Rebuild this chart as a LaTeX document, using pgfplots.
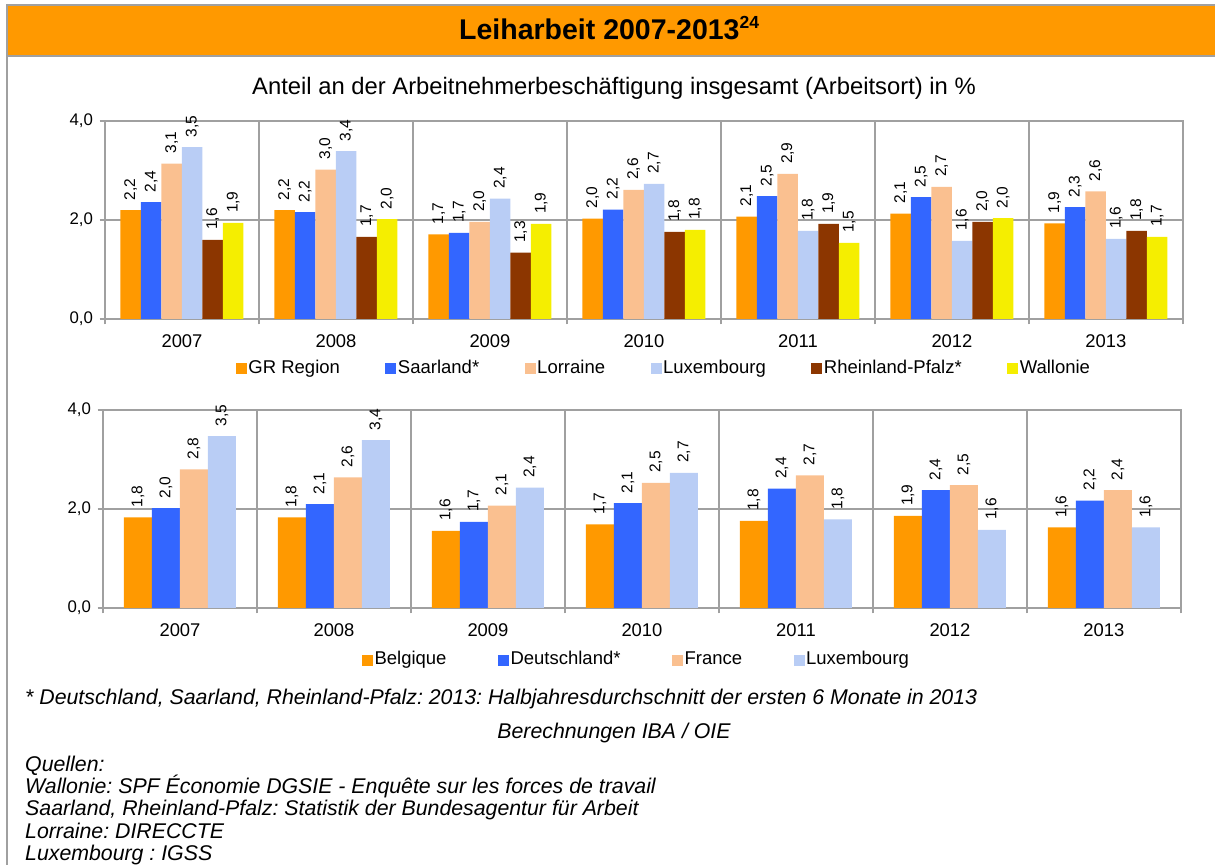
\documentclass[border=0pt]{standalone}
\usepackage{fontspec}
\setmainfont{Liberation Sans}
\usepackage{pgfplots}
\usepackage{pgfplotstable}
\pgfplotsset{compat=1.18}
\frenchspacing

\definecolor{cOr}{HTML}{FF9900}
\definecolor{cBl}{HTML}{3366FF}
\definecolor{cPe}{HTML}{FAC090}
\definecolor{cLb}{HTML}{B9CDF5}
\definecolor{cBr}{HTML}{8C3600}
\definecolor{cYe}{HTML}{F5EE00}
\definecolor{cGr}{HTML}{A0A0A0}

\pgfplotstableread{
x gr saar lor lux rp wal
0 2.20 2.36 3.14 3.47 1.60 1.94
1 2.20 2.16 3.02 3.39 1.66 2.02
2 1.71 1.74 1.96 2.43 1.34 1.92
3 2.03 2.21 2.61 2.73 1.76 1.80
4 2.07 2.48 2.93 1.78 1.92 1.54
5 2.13 2.46 2.67 1.58 1.96 2.04
6 1.93 2.26 2.58 1.62 1.78 1.66
}\tA

\pgfplotstableread{
x be de fr lu
0 1.83 2.02 2.80 3.47
1 1.83 2.10 2.64 3.39
2 1.56 1.74 2.07 2.43
3 1.69 2.12 2.53 2.73
4 1.76 2.41 2.68 1.79
5 1.86 2.38 2.48 1.58
6 1.63 2.17 2.38 1.63
}\tB

\pgfplotsset{
 ybar legend/.style={legend image code/.code={\path[##1,draw=none] (0pt,-5.5pt) rectangle (11pt,5.5pt);}},
 mybar/.style={
  scale only axis, ybar=0pt, clip=false,
  xmin=-0.5, xmax=6.5, ymin=0, ymax=4,
  xtick={0,1,2,3,4,5,6},
  xticklabels={2007,2008,2009,2010,2011,2012,2013},
  minor xtick={-0.5,0.5,1.5,2.5,3.5,4.5,5.5,6.5},
  ytick={0,2,4},
  xtick pos=bottom, ytick pos=left,
  ymajorgrids, xminorgrids,
  major grid style={draw=cGr, line width=1.3pt},
  minor grid style={draw=cGr, line width=1.3pt},
  axis line style={draw=cGr, line width=1.3pt},
  tick style={draw=cGr, line width=1.3pt},
  major x tick style={draw=none},
  tick align=outside,
  major tick length=5.5pt, minor tick length=5.5pt,
  xticklabel style={font=\fontsize{18.4}{20}\selectfont, yshift=-6.5pt},
  yticklabel style={font=\fontsize{16.8}{18}\selectfont, xshift=-3pt},
  /pgf/number format/use comma,
  /pgf/number format/fixed,
  /pgf/number format/fixed zerofill,
  /pgf/number format/precision=1,
  /pgf/number format/assume math mode=true,
  nodes near coords,
  every node near coord/.append style={rotate=90, anchor=west, font=\fontsize{15.5}{16}\selectfont, inner xsep=1pt, outer xsep=9pt, inner ysep=1pt, text=black},
  legend cell align=left,
  legend style={draw=none, fill=none, inner sep=0pt, outer sep=0pt, anchor=west,
    font=\fontsize{18.5}{20}\selectfont, nodes={inner xsep=1.5pt, inner ysep=0pt, text height=13.5pt, text depth=4pt}},
 }
}

\begin{document}
\begin{tikzpicture}
\useasboundingbox (0,0) rectangle (1215pt,865pt);
\clip (0,0) rectangle (1215pt,865pt);
\fill[cOr] (8pt,809pt) rectangle (1215pt,860pt);
\draw[cGr, line width=2.5pt] (6pt,860pt) -- (1215pt,860pt);
\draw[cGr, line width=2.5pt] (6pt,809pt) -- (1215pt,809pt);
\draw[cGr, line width=2pt] (7pt,861pt) -- (7pt,0pt);
\node[anchor=base west, inner sep=0pt] at (459pt,825pt) {\fontsize{28.5}{30}\selectfont\bfseries Leiharbeit 2007-2013\raisebox{11pt}{\fontsize{17.5}{18}\selectfont\bfseries 24}};
\node at (614pt,777pt) {\fontsize{23.8}{26}\selectfont Anteil an der Arbeitnehmerbeschäftigung insgesamt (Arbeitsort) in \%};

\begin{axis}[mybar, at={(105pt,546pt)}, anchor=south west, width=1078pt, height=198pt,
  bar width=20.5pt, legend columns=6,
  legend style={at={(0.1215,-0.2525)}, anchor=west, /tikz/every even column/.append style={column sep=44pt}}]
\addplot[fill=cOr, draw=none] table[x=x,y=gr]{\tA};
\addplot[fill=cBl, draw=none] table[x=x,y=saar]{\tA};
\addplot[fill=cPe, draw=none] table[x=x,y=lor]{\tA};
\addplot[fill=cLb, draw=none] table[x=x,y=lux]{\tA};
\addplot[fill=cBr, draw=none] table[x=x,y=rp]{\tA};
\addplot[fill=cYe, draw=none] table[x=x,y=wal]{\tA};
\legend{GR Region,Saarland*,Lorraine,Luxembourg,Rheinland-Pfalz*,Wallonie}
\end{axis}

\begin{axis}[mybar, at={(103pt,257pt)}, anchor=south west, width=1078pt, height=198pt,
  bar width=28pt, legend columns=4,
  legend style={at={(0.2403,-0.263)}, anchor=west, /tikz/every even column/.append style={column sep=50pt}}]
\addplot[fill=cOr, draw=none] table[x=x,y=be]{\tB};
\addplot[fill=cBl, draw=none] table[x=x,y=de]{\tB};
\addplot[fill=cPe, draw=none] table[x=x,y=fr]{\tB};
\addplot[fill=cLb, draw=none] table[x=x,y=lu]{\tB};
\legend{Belgique,Deutschland*,France,Luxembourg}
\end{axis}

\begin{scope}[every node/.style={inner sep=0pt, font=\itshape\fontsize{21.3}{24}\selectfont}]
\node[anchor=base west] at (25pt,160.5pt) {* Deutschland, Saarland, Rheinland-Pfalz: 2013: Halbjahresdurchschnitt der ersten 6 Monate in 2013};
\node[anchor=base] at (614pt,126.5pt) {Berechnungen IBA / OIE};
\node[anchor=base west] at (25pt,93.5pt) {Quellen:};
\node[anchor=base west] at (25pt,71.5pt) {Wallonie: SPF Économie DGSIE - Enquête sur les forces de travail};
\node[anchor=base west] at (25pt,49.5pt) {Saarland, Rheinland-Pfalz: Statistik der Bundesagentur für Arbeit};
\node[anchor=base west] at (25pt,26.5pt) {Lorraine: DIRECCTE};
\node[anchor=base west] at (25pt,4.5pt) {Luxembourg : IGSS};
\end{scope}
\end{tikzpicture}
\end{document}
